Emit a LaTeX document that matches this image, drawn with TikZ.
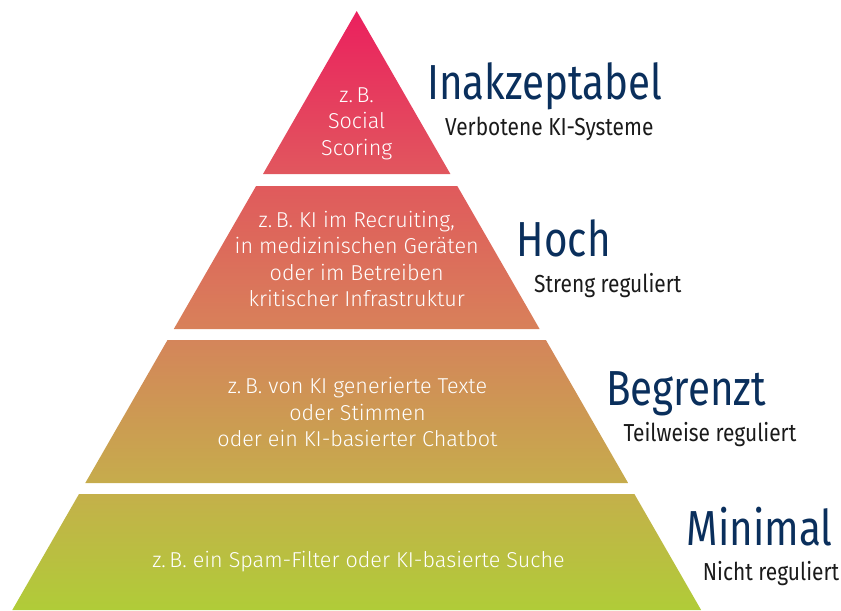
\documentclass[tikz,border=0pt]{standalone}
\usepackage{fontspec}
\setmainfont{Fira Sans}[FakeStretch=0.85]
\newfontfamily\titlefont{Fira Sans}[FakeStretch=0.82]
\newfontfamily\lightfont{Fira Sans Light}
\definecolor{navy}{HTML}{0A2F5C}
\definecolor{darktext}{HTML}{1A1A1A}
\definecolor{redA}{HTML}{EB205E}
\definecolor{redB}{HTML}{E1575E}
\definecolor{redC}{HTML}{E05A5C}
\definecolor{orangeA}{HTML}{D8815A}
\definecolor{orangeB}{HTML}{D4855A}
\definecolor{ochreA}{HTML}{C6AC4C}
\definecolor{ochreB}{HTML}{C4B04A}
\definecolor{limeA}{HTML}{B0CC38}
\begin{document}
\begin{tikzpicture}[x=0.03cm,y=-0.03cm,
    level/.style={font=\titlefont\fontsize{42}{48}\selectfont, text=navy, anchor=base west, inner sep=0},
    remark/.style={font=\fontsize{21}{24}\selectfont, text=darktext, anchor=base west, inner sep=0},
    inside/.style={font=\lightfont\fontsize{18.4}{22.5}\selectfont, text=white, align=center, anchor=base, inner sep=0}]
    \useasboundingbox (0,0) rectangle (841,610);
    % pyramid tiers
    \shade[top color=redA, bottom color=redB] (356.7,11) -- (450.4,174) -- (263,174) -- cycle;
    \shade[top color=redC, bottom color=orangeA] (256.1,186) -- (457.3,186) -- (539.6,329) -- (173.8,329) -- cycle;
    \shade[top color=orangeB, bottom color=ochreA] (167.5,340) -- (545.9,340) -- (628.1,483) -- (85.3,483) -- cycle;
    \shade[top color=ochreB, bottom color=limeA] (79,494) -- (634.4,494) -- (701.1,610) -- (12.3,610) -- cycle;
    % examples (anchored at the last line)
    \node[inside] (unacc) at (356.7,155) {z.\,B.\\Social\\Scoring};
    \node[inside] (high) at (356.7,306.7) {z.\,B. KI im Recruiting,\\in medizinischen Geräten\\oder im Betreiben\\kritischer Infrastruktur};
    \node[inside] (limited) at (357.5,446.7) {z.\,B. von KI generierte Texte\\oder Stimmen\\oder ein KI-basierter Chatbot};
    \node[inside] (minimal) at (358.5,567.3) {z.\,B. ein Spam-Filter oder KI-basierte Suche};
    % risk levels
    \node[level] (unaccT) at (427,99.3) {Inakzeptabel};
    \node[remark] (unaccR) at (445,135) {Verbotene KI-Systeme};
    \node[level] (highT) at (516.7,256.7) {Hoch};
    \node[remark] (highR) at (534,292.7) {Streng reguliert};
    \node[level] (limitedT) at (606,405.7) {Begrenzt};
    \node[remark] (limitedR) at (623.3,441.7) {Teilweise reguliert};
    \node[level] (minimalT) at (686.7,545) {Minimal};
    \node[remark] (minimalR) at (702.7,580) {Nicht reguliert};
\end{tikzpicture}
\end{document}
